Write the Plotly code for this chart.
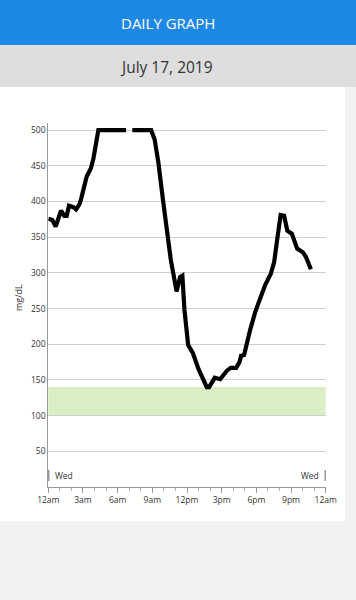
import plotly.graph_objects as go

# ---- data (hours since midnight, glucose mg/dL) ----
hours = [0.0, 0.35, 0.64, 1.1, 1.39, 1.59, 1.79, 2.17, 2.4, 2.69, 2.83, 3.18, 3.32,
         3.67, 3.9, 4.33, 6.73, 7.0, 7.27, 8.9, 9.2, 9.52, 9.9, 10.25, 10.6, 11.1,
         11.4, 11.6, 11.78, 12.1, 12.5, 13.0, 13.4, 13.71, 13.91, 14.4, 14.87,
         15.45, 15.79, 16.25, 16.54, 16.68, 16.94, 17.26, 17.46, 17.9, 18.3, 18.76,
         19.26, 19.54, 19.83, 20.1, 20.4, 20.68, 21.07, 21.53, 22.02, 22.3, 22.72]
glucose = [376, 374, 365, 387, 380, 380, 394, 392, 389, 396, 403, 425, 435,
           446, 460, 500, 500, None, 500, 500, 487, 455, 405, 360, 318, 274,
           294, 296, 248, 199, 188, 165, 152, 140, 140, 153, 151,
           163, 167, 167, 175, 184, 185, 208, 220, 245, 264, 283,
           299, 315, 350, 381, 380, 359, 355, 334, 329, 322, 305]

target_low = 100
target_high = 140

y_ticks = [50, 100, 150, 200, 250, 300, 350, 400, 450, 500]
x_tickvals = [0, 3, 6, 9, 12, 15, 18, 21, 24]
x_ticktext = ["12am", "3am", "6am", "9am", "12pm", "3pm", "6pm", "9pm", "12am"]
day_label = "Wed"
y_title = "mg/dL"
header_title = "DAILY GRAPH"
date_title = "July 17, 2019"

W, H = 356, 600

def py(px):
    return 1 - px / H

def pxx(px):
    return px / W

fig = go.Figure()

fig.add_trace(go.Scatter(
    x=hours, y=glucose, mode="lines",
    line=dict(color="black", width=4.2, shape="linear"),
    connectgaps=False, hoverinfo="skip", showlegend=False,
))

font = "Open Sans, Noto Sans, sans-serif"

shapes = [
    dict(type="rect", xref="paper", yref="paper", x0=0, x1=1, y0=py(45), y1=1,
         fillcolor="#1E88E5", line_width=0, layer="below"),
    dict(type="rect", xref="paper", yref="paper", x0=0, x1=1, y0=py(87), y1=py(45),
         fillcolor="#DEDEDE", line_width=0, layer="below"),
    dict(type="rect", xref="paper", yref="paper", x0=0, x1=pxx(345), y0=py(521), y1=py(87),
         fillcolor="white", line_width=0, layer="below"),
    dict(type="rect", xref="x domain", yref="y", x0=0, x1=1, y0=target_low, y1=target_high,
         fillcolor="#DAEEC4", line_width=0, layer="below"),
    dict(type="line", xref="x domain", yref="paper", x0=0.002, x1=0.002, y0=py(481), y1=py(470),
         line=dict(color="#666", width=1)),
    dict(type="line", xref="x domain", yref="paper", x0=0.998, x1=0.998, y0=py(481), y1=py(470),
         line=dict(color="#666", width=1)),
]

annotations = [
    dict(text=header_title, xref="paper", yref="paper", x=pxx(168), y=py(23), showarrow=False,
         font=dict(family=font, size=15, color="white"), xanchor="center", yanchor="middle"),
    dict(text=date_title, xref="paper", yref="paper", x=pxx(166.5), y=py(67), showarrow=False,
         font=dict(family=font, size=15.5, color="#333"), xanchor="center", yanchor="middle"),
    dict(text=day_label, xref="x domain", yref="paper", x=0.016, y=py(475.5), showarrow=False,
         font=dict(family=font, size=8.5, color="#333"), xanchor="left", yanchor="middle"),
    dict(text=day_label, xref="x domain", yref="paper", x=0.984, y=py(475.5), showarrow=False,
         font=dict(family=font, size=8.5, color="#333"), xanchor="right", yanchor="middle"),
    dict(text=y_title, xref="paper", yref="paper", x=pxx(19), y=py(298), showarrow=False,
         textangle=-90, font=dict(family=font, size=9, color="#333"),
         xanchor="center", yanchor="middle"),
]

fig.update_layout(
    width=W, height=H, autosize=False,
    margin=dict(l=0, r=0, t=0, b=0, pad=0),
    paper_bgcolor="#F1F2F4", plot_bgcolor="rgba(0,0,0,0)",
    shapes=shapes, annotations=annotations,
    font=dict(family=font, size=8.5, color="#333"),
)

fig.update_xaxes(
    domain=[pxx(48.3), pxx(325.7)], range=[0, 24], automargin=False,
    tickvals=x_tickvals, ticktext=x_ticktext,
    showgrid=False, zeroline=False,
    showline=True, linecolor="#999", linewidth=1,
    ticks="outside", ticklen=5, tickcolor="#999",
    minor=dict(dtick=1, ticks="outside", ticklen=3, tickcolor="#aaa"),
    tickfont=dict(size=8.5, color="#333"),
)
fig.update_yaxes(
    domain=[py(487), py(123)], range=[0, 510], automargin=False,
    tickvals=y_ticks, showgrid=True, gridcolor="#CFCFCF", gridwidth=1,
    zeroline=False, showline=True, linecolor="#999", linewidth=1,
    ticks="", tickfont=dict(size=8.5, color="#333"),
)

fig.write_html("out.html", config={"displayModeBar": False},
               post_script="document.body.style.margin='0';document.body.style.overflow='hidden';")
